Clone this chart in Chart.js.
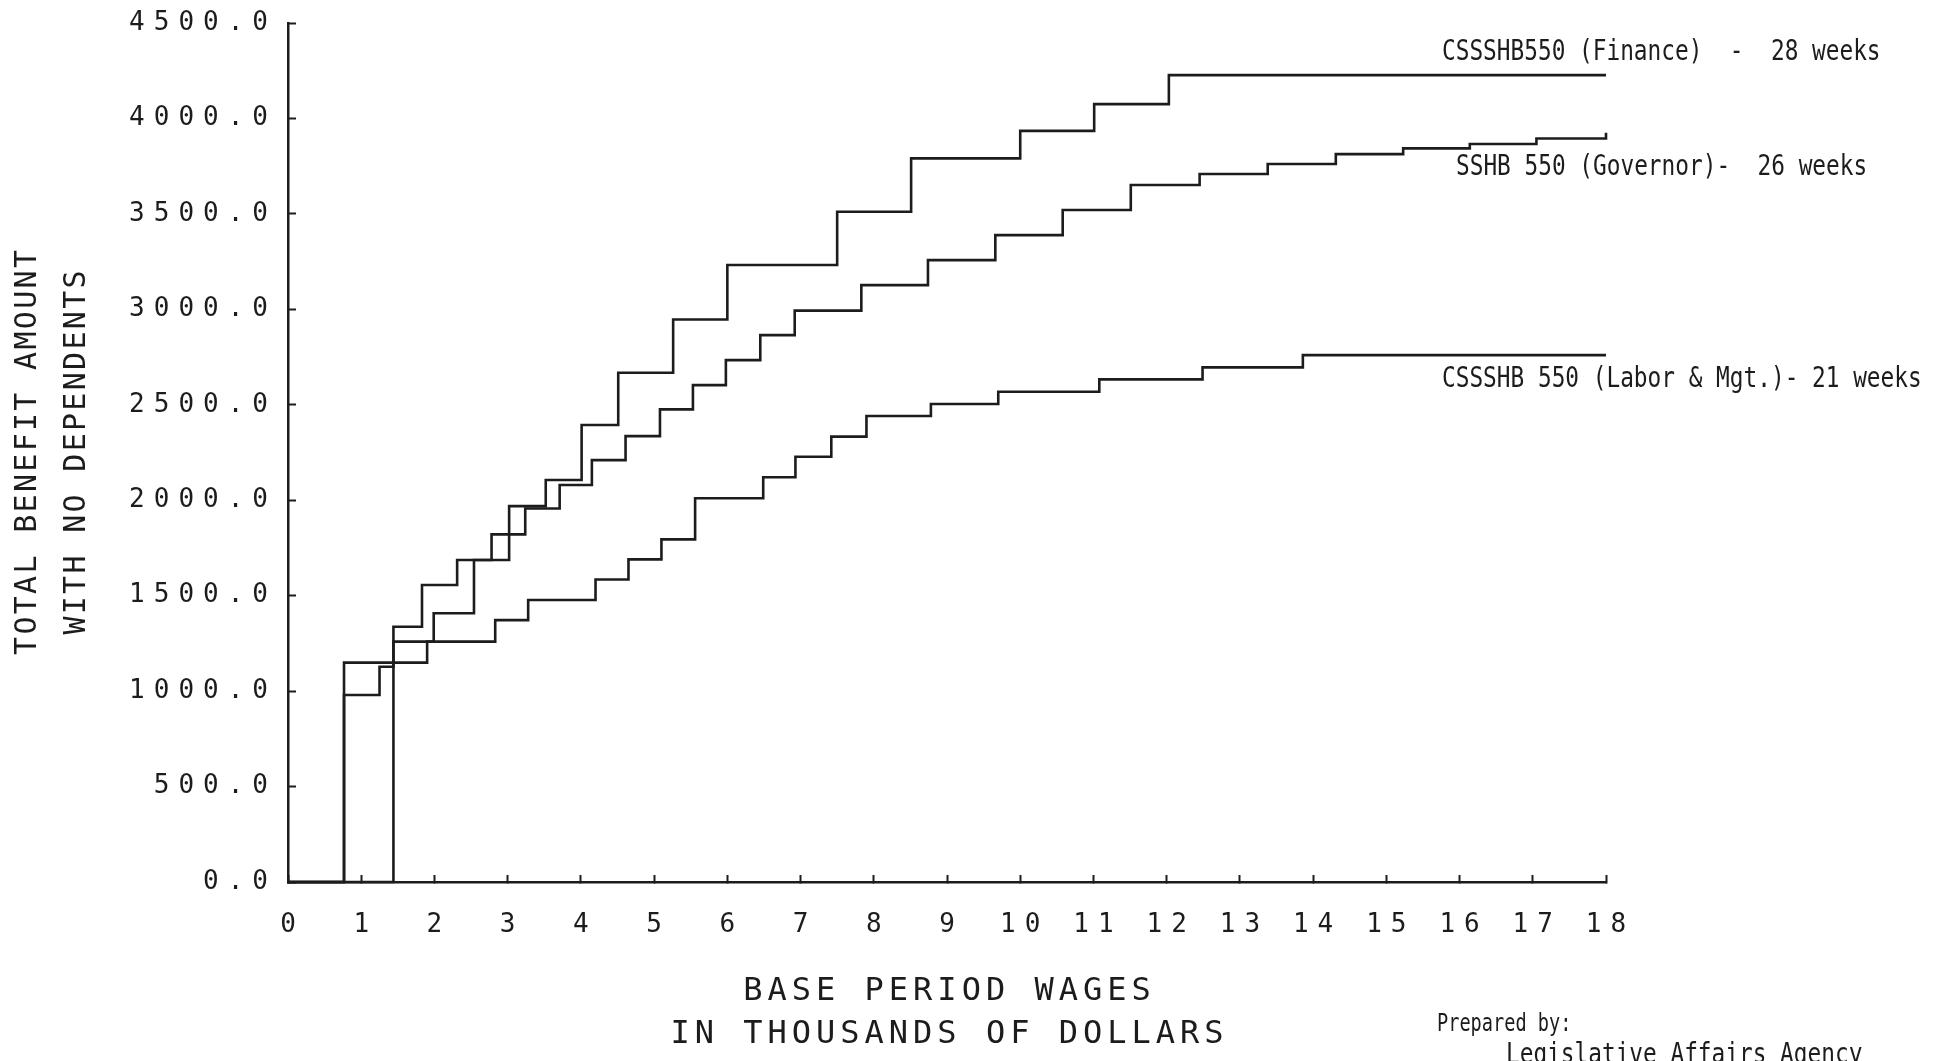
<!DOCTYPE html>
<html lang="en">
<head>
  <meta charset="UTF-8">
  <title>Total benefit amount with no dependents</title>
  <script src="https://cdn.jsdelivr.net/npm/chart.js"></script>
  <style>
    html, body { margin: 0; padding: 0; background: #fff; overflow: hidden; }
    canvas { display: block; }
  </style>
</head>
<body>
  <canvas id="benefitChart" width="1948" height="1061"></canvas>

  <script>
    // Step breakpoints: wages in $1000s, benefit in dollars.
    // Each value holds from its wage until the next breakpoint.
    const financeWages   = [0, 0.765, 1.90, 1.99, 2.54, 3.02, 3.52, 4.01, 4.51, 5.26, 6.00, 7.50, 8.51, 10.00, 11.01, 12.03, 18];
    const financeBenefit = [0, 1149, 1259, 1408, 1687, 1969, 2106, 2394, 2668, 2947, 3232, 3511, 3791, 3935, 4075, 4227, 4227];

    const governorWages   = [0, 0.765, 1.25, 1.44, 1.83, 2.31, 2.78, 3.24, 3.71, 4.15, 4.61, 5.08, 5.53, 5.98, 6.45, 6.92, 7.83, 8.74, 9.66, 10.58, 11.51, 12.45, 13.38, 14.31, 15.23, 16.14, 17.05, 18];
    const governorBenefit = [0, 980, 1128, 1337, 1556, 1687, 1821, 1957, 2080, 2210, 2336, 2476, 2603, 2734, 2865, 2993, 3127, 3258, 3389, 3520, 3651, 3709, 3761, 3813, 3843, 3866, 3895, 3925];

    const laborWages   = [0, 1.44, 2.83, 3.28, 4.20, 4.65, 5.10, 5.56, 6.49, 6.93, 7.42, 7.90, 8.78, 9.70, 11.08, 12.49, 13.86, 18];
    const laborBenefit = [0, 1259, 1372, 1477, 1585, 1690, 1795, 2010, 2120, 2228, 2333, 2441, 2504, 2568, 2633, 2696, 2760, 2760];

    const seriesNames = [
      'CSSSHB550 (Finance)  -  28 weeks',
      'SSHB 550 (Governor)-  26 weeks',
      'CSSSHB 550 (Labor & Mgt.)- 21 weeks'
    ];
    const xTitle = ['BASE PERIOD WAGES', 'IN THOUSANDS OF DOLLARS'];
    const yTitle = ['TOTAL BENEFIT AMOUNT', 'WITH NO DEPENDENTS'];
    const credit = ['Prepared by:', 'Legislative Affairs Agency'];

    const ink = '#1c1c1c';
    const tickSpacing = 9;   // plotter digits are widely spaced
    const plotterFont = 'DejaVu Sans Mono';

    function toPoints(xs, ys) {
      return xs.map((x, i) => ({ x: x, y: ys[i] }));
    }

    function stepLine(label, xs, ys) {
      return {
        label: label,
        data: toPoints(xs, ys),
        stepped: 'before',
        borderColor: ink,
        borderWidth: 2.6,
        pointRadius: 0,
        fill: false,
        clip: false
      };
    }

    // Chart.js has no letter spacing option, so set it on the context for the ticks
    const spacingPlugin = {
      id: 'spacing',
      beforeLayout(chart) { chart.ctx.letterSpacing = tickSpacing + 'px'; },
      beforeDraw(chart) { chart.ctx.letterSpacing = tickSpacing + 'px'; }
    };

    function putText(ctx, text, x, y, o) {
      const spacing = o.spacing || 0;
      ctx.save();
      ctx.font = o.font;
      ctx.letterSpacing = spacing + 'px';
      ctx.fillStyle = ink;
      ctx.textBaseline = 'middle';
      ctx.textAlign = o.align || 'left';
      ctx.translate(x, y);
      if (o.rotate) ctx.rotate(o.rotate);
      ctx.scale(o.squeeze || 1, 1);
      ctx.fillText(text, o.align === 'center' ? spacing / 2 : 0, 0);
      ctx.restore();
    }

    const textPlugin = {
      id: 'texts',
      afterDraw(chart) {
        const ctx = chart.ctx;
        const area = chart.chartArea;
        const midX = (area.left + area.right) / 2;
        const midY = (area.top + area.bottom) / 2;

        // axis titles
        const xFont = '32px "' + plotterFont + '"';
        putText(ctx, xTitle[0], midX, 992, { font: xFont, spacing: 5, align: 'center' });
        putText(ctx, xTitle[1], midX, 1035, { font: xFont, spacing: 5, align: 'center' });
        const yFont = '30px "' + plotterFont + '"';
        putText(ctx, yTitle[0], 28, midY, { font: yFont, spacing: 2.3, align: 'center', rotate: -Math.PI / 2 });
        putText(ctx, yTitle[1], 77, midY, { font: yFont, spacing: 2.3, align: 'center', rotate: -Math.PI / 2 });

        // typed labels beside the curves
        const typeFont = '28px "DejaVu Sans Mono"';
        putText(ctx, seriesNames[0], 1442, 53, { font: typeFont, squeeze: 0.813 });
        putText(ctx, seriesNames[1], 1456, 168, { font: typeFont, squeeze: 0.813 });
        putText(ctx, seriesNames[2], 1442, 380, { font: typeFont, squeeze: 0.813 });

        putText(ctx, credit[0], 1437, 1025, { font: '24px "DejaVu Sans Mono"', squeeze: 0.775 });
        putText(ctx, credit[1], 1506, 1056, { font: typeFont, squeeze: 0.813 });
      }
    };

    const tickFont = { family: plotterFont, size: 26 };

    new Chart(document.getElementById('benefitChart'), {
      type: 'line',
      data: {
        datasets: [
          stepLine(seriesNames[0], financeWages, financeBenefit),
          stepLine(seriesNames[1], governorWages, governorBenefit),
          stepLine(seriesNames[2], laborWages, laborBenefit)
        ]
      },
      options: {
        responsive: false,
        animation: false,
        layout: { padding: { left: 0, top: 23, right: 342, bottom: 0 } },
        plugins: {
          legend: { display: false },
          tooltip: { enabled: false }
        },
        scales: {
          x: {
            type: 'linear',
            min: 0,
            max: 18,
            afterFit(scale) {
              scale.height = 179;
              scale.paddingLeft = 0;
              scale.paddingRight = 0;
            },
            border: { color: ink, width: 2.5 },
            grid: { drawOnChartArea: false, tickLength: -7, tickWidth: 2, color: ink },
            ticks: {
              stepSize: 1,
              autoSkip: false,
              maxRotation: 0,
              minRotation: 0,
              padding: 34.4,
              labelOffset: tickSpacing / 2,
              color: ink,
              font: tickFont,
              callback: v => String(v)
            }
          },
          y: {
            type: 'linear',
            min: 0,
            max: 4500,
            afterFit(scale) {
              scale.width = 288;
              // keep the plot top pinned to the layout padding
              scale.paddingTop = 0;
              scale.paddingBottom = 0;
            },
            border: { color: ink, width: 2.5 },
            grid: { drawOnChartArea: false, tickLength: -8, tickWidth: 2, color: ink },
            ticks: {
              stepSize: 500,
              padding: 19,
              color: ink,
              font: tickFont,
              callback: v => v.toFixed(1)
            }
          }
        }
      },
      plugins: [spacingPlugin, textPlugin]
    });
  </script>
</body>
</html>
